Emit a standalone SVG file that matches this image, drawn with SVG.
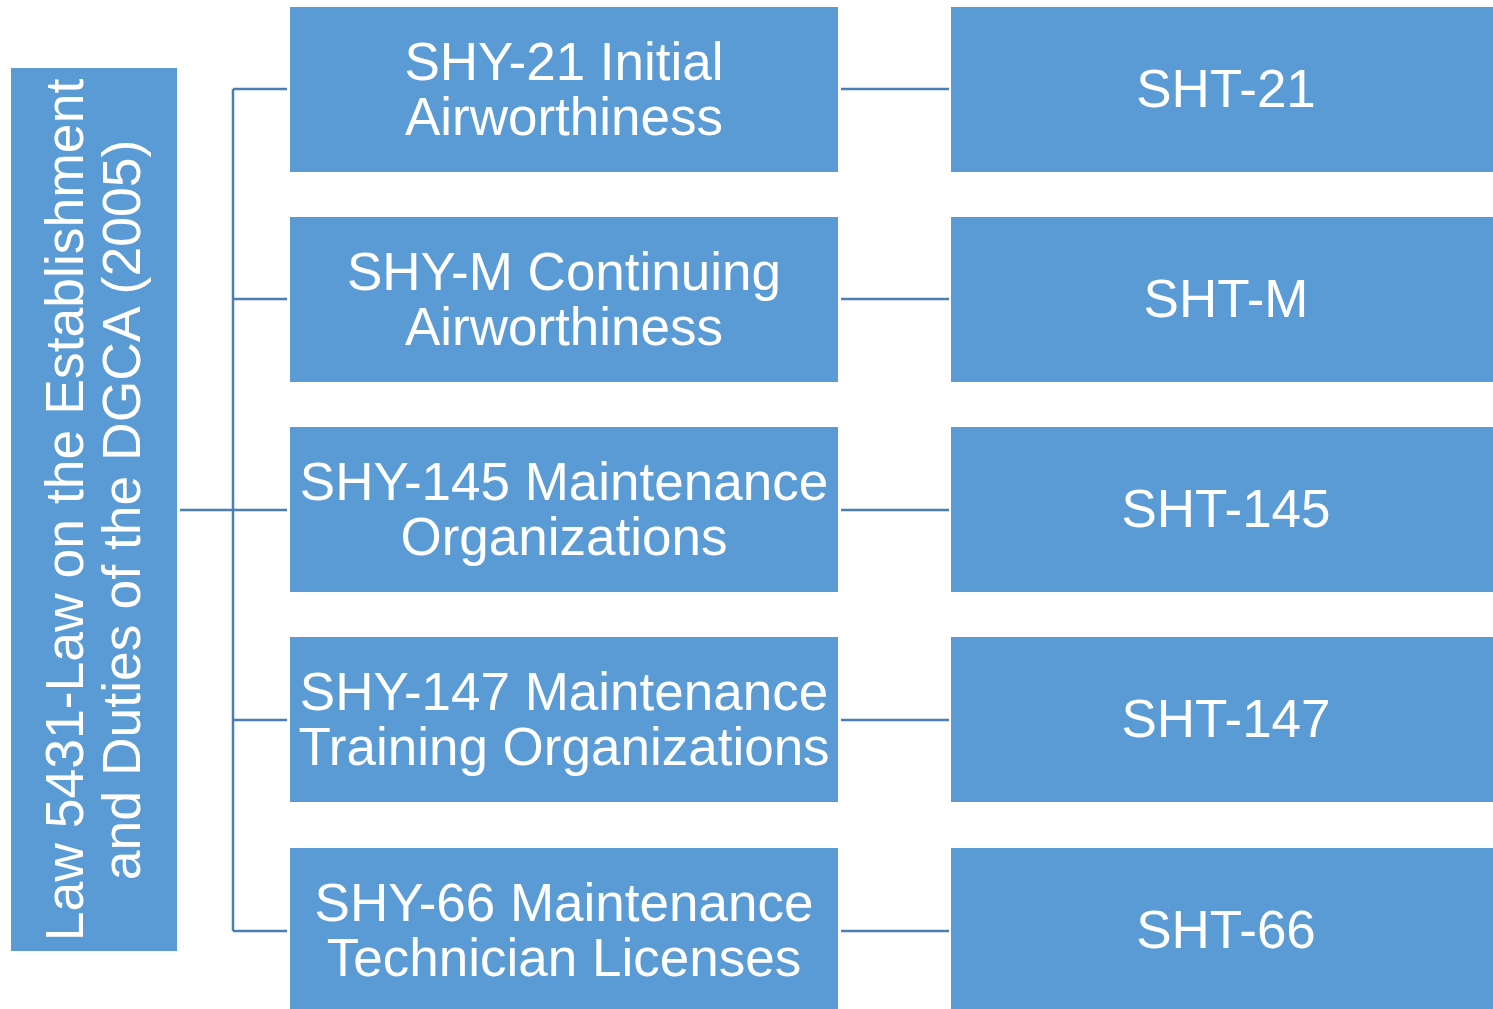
<svg xmlns="http://www.w3.org/2000/svg" width="1493" height="1009" viewBox="0 0 1493 1009">
<style>
.box{fill:#5B9BD5;}
.t{font-family:"Liberation Sans",Arial,sans-serif;font-size:53px;fill:#ffffff;text-anchor:middle;}
.c{stroke:#4A7EB5;stroke-width:2.5;fill:none;}
</style>
<rect width="1493" height="1009" fill="#ffffff"/>
<g id="connectors">
<path class="c" d="M180,510 H287 M233,89 V931 M233,89 H287 M233,299 H287 M233,720 H287 M233,931 H287"/>
<path class="c" d="M841,89 H949 M841,299 H949 M841,510 H949 M841,720 H949 M841,931 H949"/>
</g>
<g id="law">
<rect class="box" x="11" y="68" width="166" height="883"/>
<g transform="translate(0,510) rotate(-90)">
<text class="t" x="0" y="83" style="font-size:53.5px">Law 5431-Law on the Establishment</text>
<text class="t" x="0" y="140" style="font-size:53.5px">and Duties of the DGCA (2005)</text>
</g>
</g>
<g id="shy21">
<rect class="box" x="290" y="7" width="548" height="165"/>
<text class="t" x="564" y="80">SHY-21 Initial</text>
<text class="t" x="564" y="135">Airworthiness</text>
</g>
<g id="shym">
<rect class="box" x="290" y="217" width="548" height="165"/>
<text class="t" x="564" y="290">SHY-M Continuing</text>
<text class="t" x="564" y="345">Airworthiness</text>
</g>
<g id="shy145">
<rect class="box" x="290" y="427" width="548" height="165"/>
<text class="t" x="564" y="500">SHY-145 Maintenance</text>
<text class="t" x="564" y="555">Organizations</text>
</g>
<g id="shy147">
<rect class="box" x="290" y="637" width="548" height="165"/>
<text class="t" x="564" y="710">SHY-147 Maintenance</text>
<text class="t" x="564" y="765">Training Organizations</text>
</g>
<g id="shy66">
<rect class="box" x="290" y="848" width="548" height="165"/>
<text class="t" x="564" y="921">SHY-66 Maintenance</text>
<text class="t" x="564" y="976">Technician Licenses</text>
</g>
<g id="sht21">
<rect class="box" x="951" y="7" width="542" height="165"/>
<text class="t" x="1226" y="107">SHT-21</text>
</g>
<g id="shtm">
<rect class="box" x="951" y="217" width="542" height="165"/>
<text class="t" x="1226" y="317">SHT-M</text>
</g>
<g id="sht145">
<rect class="box" x="951" y="427" width="542" height="165"/>
<text class="t" x="1226" y="527">SHT-145</text>
</g>
<g id="sht147">
<rect class="box" x="951" y="637" width="542" height="165"/>
<text class="t" x="1226" y="737">SHT-147</text>
</g>
<g id="sht66">
<rect class="box" x="951" y="848" width="542" height="165"/>
<text class="t" x="1226" y="948">SHT-66</text>
</g>
</svg>
